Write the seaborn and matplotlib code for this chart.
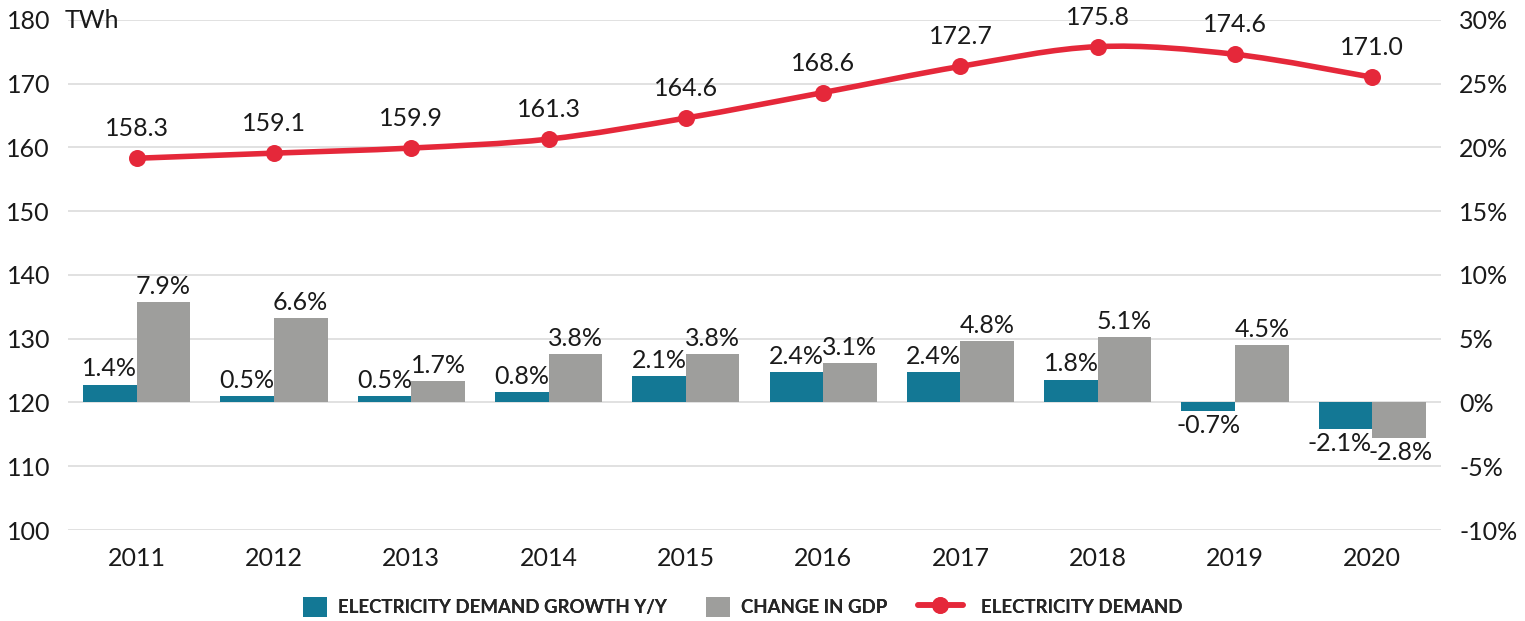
import numpy as np
import pandas as pd
import matplotlib
matplotlib.use("Agg")
import matplotlib.pyplot as plt
import seaborn as sns
from matplotlib.path import Path
from matplotlib.patches import PathPatch, Patch
from matplotlib.lines import Line2D

# ----- Data -----
years = ["2011", "2012", "2013", "2014", "2015", "2016", "2017", "2018", "2019", "2020"]
demand_twh = [158.3, 159.1, 159.9, 161.3, 164.6, 168.6, 172.7, 175.8, 174.6, 171.0]
demand_growth = [1.4, 0.5, 0.5, 0.8, 2.1, 2.4, 2.4, 1.8, -0.7, -2.1]
gdp_change = [7.9, 6.6, 1.7, 3.8, 3.8, 3.1, 4.8, 5.1, 4.5, -2.8]

TEAL = "#137895"
GREY = "#9e9e9c"
RED = "#e5283a"
TXT = "#1a1a1a"
FS = 18

sns.set_style("white")
plt.rcParams["font.family"] = ["Lato", "DejaVu Sans"]

bars = pd.DataFrame({
    "year": years * 2,
    "value": demand_growth + gdp_change,
    "series": ["ELECTRICITY DEMAND GROWTH Y/Y"] * len(years) + ["CHANGE IN GDP"] * len(years),
})

fig = plt.figure(figsize=(15.25, 6.21), dpi=100)
ax = fig.add_axes([0.0446, 0.1465, 0.9003, 0.8215])
ax2 = ax.twinx()

# ----- bars on the right (%) axis -----
sns.barplot(data=bars, x="year", y="value", hue="series", palette=[TEAL, GREY],
            width=0.78, saturation=1, linewidth=0, edgecolor="none", ax=ax2, legend=False)
ax2.set_ylim(-10, 30)

both_neg = [a < 0 and b < 0 for a, b in zip(demand_growth, gdp_change)]
for k, (container, vals) in enumerate(zip(ax2.containers, [demand_growth, gdp_change])):
    for j, (rect, v) in enumerate(zip(container, vals)):
        cx = rect.get_x() + rect.get_width() / 2
        dx = 0
        if both_neg[j]:
            dx = -4 if k == 0 else 1
        off = 3 if v >= 0 else -2
        ax2.annotate(f"{v:.1f}%", (cx, v), xytext=(dx, off), textcoords="offset points",
                     ha="center", va="bottom" if v >= 0 else "top", fontsize=FS, color=TXT)

# ----- smooth demand line on the left (TWh) axis -----
x = np.arange(len(years))
y = np.array(demand_twh)
verts = [(x[0], y[0])]
codes = [Path.MOVETO]
for i in range(len(x) - 1):
    p0 = max(i - 1, 0)
    p3 = min(i + 2, len(x) - 1)
    c1 = (x[i] + (x[i + 1] - x[p0]) / 6, y[i] + (y[i + 1] - y[p0]) / 6)
    c2 = (x[i + 1] - (x[p3] - x[i]) / 6, y[i + 1] - (y[p3] - y[i]) / 6)
    verts += [c1, c2, (x[i + 1], y[i + 1])]
    codes += [Path.CURVE4] * 3
ax.add_patch(PathPatch(Path(verts, codes), facecolor="none", edgecolor=RED, lw=4,
                       capstyle="round", joinstyle="round", zorder=5))
sns.scatterplot(x=x, y=y, color=RED, s=150, edgecolor=RED, linewidth=0, ax=ax, zorder=6)
for xi, yi in zip(x, demand_twh):
    ax.annotate(f"{yi:.1f}", (xi, yi), xytext=(0, 13), textcoords="offset points",
                ha="center", va="bottom", fontsize=FS, color=TXT)

ax.set_ylim(100, 180)
ax.set_xlim(-0.5, len(years) - 0.5)
ax.set_yticks(np.arange(100, 181, 10))
ax2.set_yticks(np.arange(-10, 31, 5))
ax2.set_yticklabels([f"{t}%" for t in range(-10, 31, 5)])
ax.set_xticks(x)
ax.set_xticklabels(years)

# line axis in front of the bar axis
ax.set_zorder(ax2.get_zorder() + 1)
ax.patch.set_visible(False)

# gridlines sit behind the bars (both axes share the same grid positions)
ax.grid(False)
ax2.grid(axis="y", color="#dcdcdc", lw=1.2)
ax2.set_axisbelow(True)
for a in (ax, ax2):
    for s in a.spines.values():
        s.set_visible(False)
    a.set_xlabel("")
    a.set_ylabel("")
ax.tick_params(axis="y", length=0, labelsize=FS, labelcolor=TXT, pad=13)
ax.tick_params(axis="x", length=0, labelsize=FS, labelcolor=TXT, pad=12)
ax2.tick_params(axis="y", length=0, labelsize=FS, labelcolor=TXT, pad=13)

fig.text(65 / 1525, 1 - 20 / 621, "TWh", ha="left", va="center", fontsize=FS, color=TXT)

# ----- legend: three single-entry legends placed along the bottom -----
leg_prop = {"family": ["Lato", "DejaVu Sans"], "weight": "bold", "size": 13.4}
entries = [
    (Patch(facecolor=TEAL, edgecolor="none"), "ELECTRICITY DEMAND GROWTH Y/Y", 303, 1.3),
    (Patch(facecolor=GREY, edgecolor="none"), "CHANGE IN GDP", 706, 1.3),
    (Line2D([0], [0], color=RED, lw=4, marker="o", markersize=11), "ELECTRICITY DEMAND", 918, 2.4),
]
for handle, label, xpix, hl in entries:
    leg = fig.legend([handle], [label], loc="center left", bbox_to_anchor=(xpix / 1525, 1 - 607 / 621),
                     frameon=False, prop=leg_prop, borderpad=0, borderaxespad=0,
                     handlelength=hl, handleheight=1.25,
                     handletextpad=0.6 if hl < 2 else 1.0)
    fig.add_artist(leg)

fig.savefig("out.png", dpi=100)
